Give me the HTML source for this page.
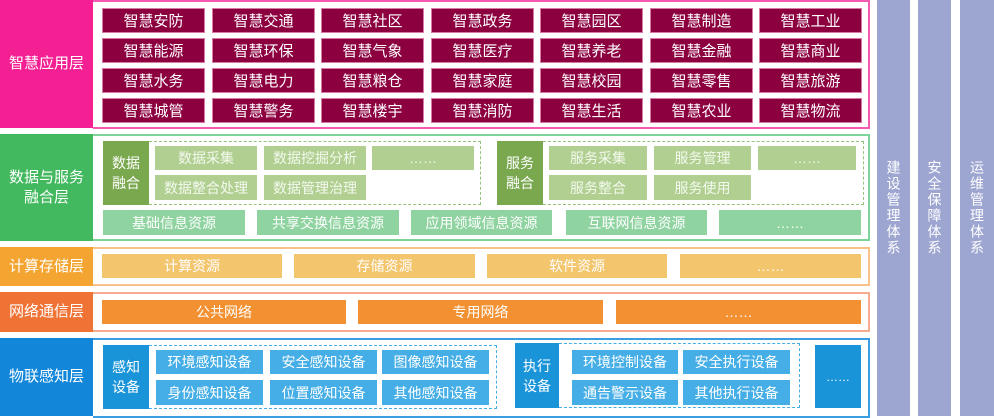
<!DOCTYPE html>
<html><head><meta charset="utf-8"><style>
*{margin:0;padding:0;box-sizing:border-box}
body{width:994px;height:416px;position:relative;background:#fff;overflow:hidden;font-family:"Liberation Sans","Noto Sans CJK SC",sans-serif}
.a{position:absolute;display:flex;align-items:center;justify-content:center;text-align:center;color:#fff}
.m{background:#8c0040;font-size:15px;border:1px solid #d77aa6}
.g1{background:#b0cf91;font-size:14px;color:#f4f9ee}
.g2{background:#8fd3a0;font-size:14px}
.y{background:#f3c56c;font-size:14px}
.o{background:#f39132;font-size:14px}
.b{background:#46aee6;font-size:14px}
.lbl{font-size:15px;line-height:20px}
.v{writing-mode:vertical-rl;letter-spacing:2px;font-size:14px;background:#9da5d1}
</style></head><body>
<!-- app layer -->
<div class="a lbl" style="left:0;top:0;width:93px;height:128px;background:#f41f93">智慧应用层</div>
<div class="a" style="left:93px;top:0;width:777px;height:129px;border:2px solid #f45ab0;border-left:none"></div>
<!-- data layer -->
<div class="a lbl" style="left:0;top:134px;width:93px;height:107px;background:#43b95f">数据与服务<br>融合层</div>
<div class="a" style="left:93px;top:134px;width:777px;height:107px;border:2px solid #7dd39a;border-left:none"></div>
<div class="a lbl" style="left:103px;top:141px;width:46px;height:64px;background:#7aa84f;font-size:14px">数据<br>融合</div>
<div class="a" style="left:149px;top:141px;width:332px;height:64px;border:1.5px dashed #94c27a;border-left:none"></div>
<div class="a lbl" style="left:497px;top:141px;width:46px;height:64px;background:#7aa84f;font-size:14px">服务<br>融合</div>
<div class="a" style="left:543px;top:141px;width:321px;height:64px;border:1.5px dashed #94c27a;border-left:none"></div>
<!-- compute -->
<div class="a lbl" style="left:0;top:247px;width:93px;height:39px;background:#f4a531">计算存储层</div>
<div class="a" style="left:93px;top:247px;width:777px;height:39px;border:2px solid #f8c28a;border-left:none"></div>
<!-- network -->
<div class="a lbl" style="left:0;top:292px;width:93px;height:40px;background:#f07336">网络通信层</div>
<div class="a" style="left:93px;top:292px;width:777px;height:40px;border:2px solid #f8ab8e;border-left:none"></div>
<!-- iot -->
<div class="a lbl" style="left:0;top:338px;width:93px;height:78px;background:#1287d9">物联感知层</div>
<div class="a" style="left:93px;top:338px;width:777px;height:80px;border:2px solid #3a9ee0;border-left:none"></div>
<div class="a lbl" style="left:103px;top:345px;width:46px;height:64px;background:#1a94d9;font-size:14px">感知<br>设备</div>
<div class="a" style="left:149px;top:345px;width:348px;height:64px;border:1.5px dashed #46aee6;border-left:none"></div>
<div class="a lbl" style="left:515px;top:343px;width:44px;height:65px;background:#1a94d9;font-size:14px">执行<br>设备</div>
<div class="a" style="left:559px;top:343px;width:241px;height:65px;border:1.5px dashed #46aee6;border-left:none"></div>
<div class="a" style="left:815px;top:345px;width:46px;height:63px;background:#1a94d9;font-size:12px">……</div>
<!-- right columns -->
<div class="a v" style="left:877px;top:0;width:33px;height:416px">建设管理体系</div>
<div class="a v" style="left:918px;top:0;width:33px;height:416px">安全保障体系</div>
<div class="a v" style="left:960px;top:0;width:34px;height:416px">运维管理体系</div>

<div class="a m" style="left:102px;top:8px;width:103px;height:25px">智慧安防</div>
<div class="a m" style="left:212px;top:8px;width:103px;height:25px">智慧交通</div>
<div class="a m" style="left:321px;top:8px;width:103px;height:25px">智慧社区</div>
<div class="a m" style="left:431px;top:8px;width:103px;height:25px">智慧政务</div>
<div class="a m" style="left:540px;top:8px;width:103px;height:25px">智慧园区</div>
<div class="a m" style="left:650px;top:8px;width:103px;height:25px">智慧制造</div>
<div class="a m" style="left:759px;top:8px;width:103px;height:25px">智慧工业</div>
<div class="a m" style="left:102px;top:38px;width:103px;height:25px">智慧能源</div>
<div class="a m" style="left:212px;top:38px;width:103px;height:25px">智慧环保</div>
<div class="a m" style="left:321px;top:38px;width:103px;height:25px">智慧气象</div>
<div class="a m" style="left:431px;top:38px;width:103px;height:25px">智慧医疗</div>
<div class="a m" style="left:540px;top:38px;width:103px;height:25px">智慧养老</div>
<div class="a m" style="left:650px;top:38px;width:103px;height:25px">智慧金融</div>
<div class="a m" style="left:759px;top:38px;width:103px;height:25px">智慧商业</div>
<div class="a m" style="left:102px;top:68px;width:103px;height:25px">智慧水务</div>
<div class="a m" style="left:212px;top:68px;width:103px;height:25px">智慧电力</div>
<div class="a m" style="left:321px;top:68px;width:103px;height:25px">智慧粮仓</div>
<div class="a m" style="left:431px;top:68px;width:103px;height:25px">智慧家庭</div>
<div class="a m" style="left:540px;top:68px;width:103px;height:25px">智慧校园</div>
<div class="a m" style="left:650px;top:68px;width:103px;height:25px">智慧零售</div>
<div class="a m" style="left:759px;top:68px;width:103px;height:25px">智慧旅游</div>
<div class="a m" style="left:102px;top:98px;width:103px;height:25px">智慧城管</div>
<div class="a m" style="left:212px;top:98px;width:103px;height:25px">智慧警务</div>
<div class="a m" style="left:321px;top:98px;width:103px;height:25px">智慧楼宇</div>
<div class="a m" style="left:431px;top:98px;width:103px;height:25px">智慧消防</div>
<div class="a m" style="left:540px;top:98px;width:103px;height:25px">智慧生活</div>
<div class="a m" style="left:650px;top:98px;width:103px;height:25px">智慧农业</div>
<div class="a m" style="left:759px;top:98px;width:103px;height:25px">智慧物流</div>

<div class="a g1" style="left:155px;top:146px;width:102px;height:24px">数据采集</div>
<div class="a g1" style="left:264px;top:146px;width:102px;height:24px">数据挖掘分析</div>
<div class="a g1" style="left:372px;top:146px;width:102px;height:24px">……</div>
<div class="a g1" style="left:155px;top:175px;width:102px;height:25px">数据整合处理</div>
<div class="a g1" style="left:264px;top:175px;width:102px;height:25px">数据管理治理</div>
<div class="a g1" style="left:549px;top:146px;width:98px;height:24px">服务采集</div>
<div class="a g1" style="left:654px;top:146px;width:97px;height:24px">服务管理</div>
<div class="a g1" style="left:758px;top:146px;width:98px;height:24px">……</div>
<div class="a g1" style="left:549px;top:175px;width:98px;height:25px">服务整合</div>
<div class="a g1" style="left:654px;top:175px;width:97px;height:25px">服务使用</div>

<div class="a g2" style="left:103px;top:210px;width:142px;height:25px">基础信息资源</div>
<div class="a g2" style="left:257px;top:210px;width:142px;height:25px">共享交换信息资源</div>
<div class="a g2" style="left:411px;top:210px;width:141px;height:25px">应用领域信息资源</div>
<div class="a g2" style="left:566px;top:210px;width:141px;height:25px">互联网信息资源</div>
<div class="a g2" style="left:719px;top:210px;width:142px;height:25px">……</div>

<div class="a y" style="left:102px;top:254px;width:180px;height:24px">计算资源</div>
<div class="a y" style="left:294px;top:254px;width:181px;height:24px">存储资源</div>
<div class="a y" style="left:487px;top:254px;width:180px;height:24px">软件资源</div>
<div class="a y" style="left:680px;top:254px;width:181px;height:24px">……</div>

<div class="a o" style="left:102px;top:300px;width:244px;height:24px">公共网络</div>
<div class="a o" style="left:358px;top:300px;width:245px;height:24px">专用网络</div>
<div class="a o" style="left:616px;top:300px;width:245px;height:24px">……</div>

<div class="a b" style="left:156px;top:350px;width:107px;height:24px">环境感知设备</div>
<div class="a b" style="left:270px;top:350px;width:107px;height:24px">安全感知设备</div>
<div class="a b" style="left:382px;top:350px;width:107px;height:24px">图像感知设备</div>
<div class="a b" style="left:156px;top:380px;width:107px;height:25px">身份感知设备</div>
<div class="a b" style="left:270px;top:380px;width:107px;height:25px">位置感知设备</div>
<div class="a b" style="left:382px;top:380px;width:107px;height:25px">其他感知设备</div>
<div class="a b" style="left:572px;top:350px;width:106px;height:24px">环境控制设备</div>
<div class="a b" style="left:683px;top:350px;width:107px;height:24px">安全执行设备</div>
<div class="a b" style="left:572px;top:380px;width:106px;height:25px">通告警示设备</div>
<div class="a b" style="left:683px;top:380px;width:107px;height:25px">其他执行设备</div>
</body></html>
